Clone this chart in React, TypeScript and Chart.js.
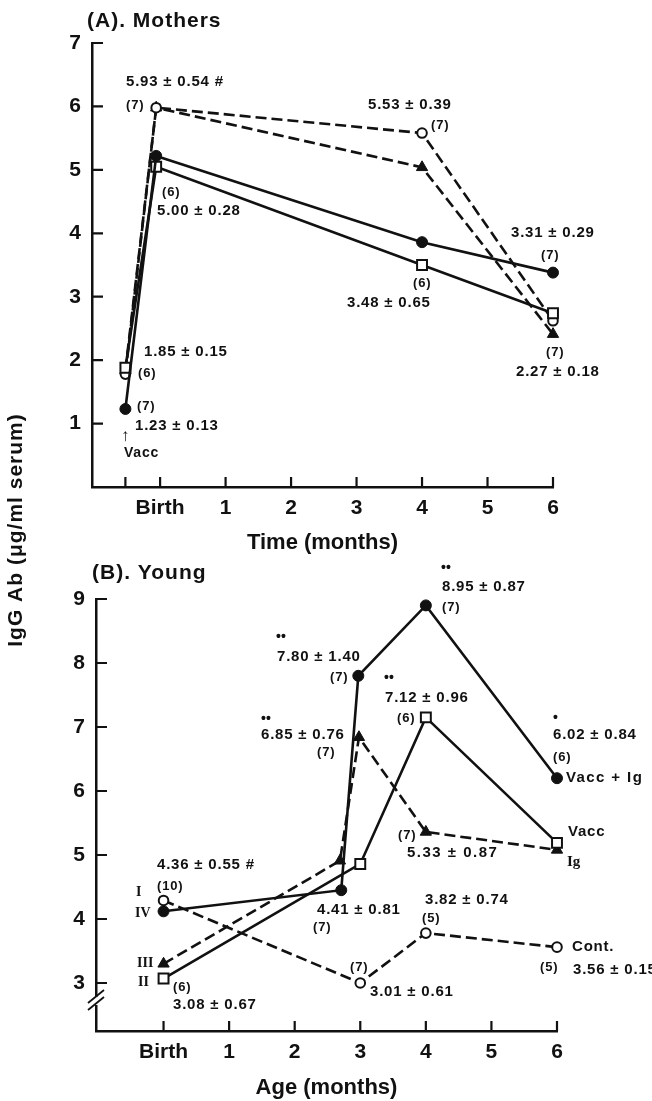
import React, { useEffect, useRef } from 'react';
import { Chart, registerables } from 'chart.js';

Chart.register(...registerables);

const W = 652;
const H = 1101;
const INK = '#111111';
const SANS = '"Liberation Sans", Arial, Helvetica, sans-serif';
const SERIF = '"Liberation Serif", "Times New Roman", serif';

// ---------- Panel A: Mothers ----------
const xTicksA = [-0.53, 0, 1, 2, 3, 4, 5, 6];
const xTickLabelsA = ['', 'Birth', '1', '2', '3', '4', '5', '6'];
const yTicksA = [1, 2, 3, 4, 5, 6, 7];
const monthsA = [-0.53, -0.06, 4, 6];
const mothersFilledCircle = [1.23, 5.22, 3.86, 3.38];
const mothersOpenSquare = [1.88, 5.05, 3.5, 2.74];
const mothersOpenCircle = [1.78, 5.98, 5.58, 2.62];
const mothersFilledTriangle = [1.84, 5.98, 5.04, 2.41];

// ---------- Panel B: Young ----------
const xTicksB = [0, 1, 2, 3, 4, 5, 6];
const xTickLabelsB = ['Birth', '1', '2', '3', '4', '5', '6'];
const yTicksB = [3, 4, 5, 6, 7, 8, 9];
const youngVaccIgMonths = [0, 2.71, 2.97, 4, 6];
const youngVaccIg = [4.12, 4.45, 7.8, 8.9, 6.2];
const youngVaccMonths = [0, 3, 4, 6];
const youngVacc = [3.07, 4.86, 7.15, 5.19];
const youngIgMonths = [0, 2.69, 2.98, 4, 6];
const youngIg = [3.3, 4.91, 6.84, 5.36, 5.08];
const youngContMonths = [0, 3, 4, 6];
const youngCont = [4.29, 3.0, 3.78, 3.56];

type Txt = { t: string; x: number; y: number; size?: number; serif?: boolean; sp?: number; weight?: string };

const textsA: Txt[] = [
  { t: '(A). Mothers', x: 87, y: 21, size: 21, sp: 1 },
  { t: 'IgG Ab (\u03bcg/ml serum)', x: 16, y: 530, size: 21, sp: 1 },
  { t: '5.93 \u00b1 0.54 #', x: 126, y: 82 },
  { t: '(7)', x: 126, y: 105, size: 13 },
  { t: '(6)', x: 162, y: 192, size: 13 },
  { t: '5.00 \u00b1 0.28', x: 157, y: 211 },
  { t: '5.53 \u00b1 0.39', x: 368, y: 105 },
  { t: '(7)', x: 431, y: 125, size: 13 },
  { t: '3.31 \u00b1 0.29', x: 511, y: 233 },
  { t: '(7)', x: 541, y: 255, size: 13 },
  { t: '(6)', x: 413, y: 283, size: 13 },
  { t: '3.48 \u00b1 0.65', x: 347, y: 303 },
  { t: '(7)', x: 546, y: 352, size: 13 },
  { t: '2.27 \u00b1 0.18', x: 516, y: 372 },
  { t: '1.85 \u00b1 0.15', x: 144, y: 352 },
  { t: '(6)', x: 138, y: 373, size: 13 },
  { t: '(7)', x: 137, y: 406, size: 13 },
  { t: '1.23 \u00b1 0.13', x: 135, y: 426 },
  { t: '\u2191', x: 121, y: 436, size: 17, sp: 0, weight: 'normal' },
  { t: 'Vacc', x: 124, y: 453, size: 14 },
];

const textsB: Txt[] = [
  { t: '(B). Young', x: 92, y: 573, size: 21, sp: 1 },
  { t: '\u2022\u2022', x: 276, y: 637, size: 14, sp: 0 },
  { t: '7.80 \u00b1 1.40', x: 277, y: 657 },
  { t: '(7)', x: 330, y: 677, size: 13 },
  { t: '\u2022\u2022', x: 261, y: 719, size: 14, sp: 0 },
  { t: '6.85 \u00b1 0.76', x: 261, y: 735 },
  { t: '(7)', x: 317, y: 752, size: 13 },
  { t: '\u2022\u2022', x: 441, y: 568, size: 14, sp: 0 },
  { t: '8.95 \u00b1 0.87', x: 442, y: 587 },
  { t: '(7)', x: 442, y: 607, size: 13 },
  { t: '\u2022\u2022', x: 384, y: 678, size: 14, sp: 0 },
  { t: '7.12 \u00b1 0.96', x: 385, y: 698 },
  { t: '(6)', x: 397, y: 718, size: 13 },
  { t: '\u2022', x: 553, y: 718, size: 14 },
  { t: '6.02 \u00b1 0.84', x: 553, y: 735 },
  { t: '(6)', x: 553, y: 757, size: 13 },
  { t: 'Vacc + Ig', x: 566, y: 778, size: 15, sp: 1.4 },
  { t: 'Vacc', x: 568, y: 832, size: 15 },
  { t: 'Ig', x: 567, y: 862, size: 15, serif: true, sp: 0 },
  { t: '(7)', x: 398, y: 835, size: 13 },
  { t: '5.33 \u00b1 0.87', x: 407, y: 853, sp: 1.5 },
  { t: '4.41 \u00b1 0.81', x: 317, y: 910 },
  { t: '(7)', x: 313, y: 927, size: 13 },
  { t: '3.82 \u00b1 0.74', x: 425, y: 900 },
  { t: '(5)', x: 422, y: 918, size: 13 },
  { t: 'Cont.', x: 572, y: 947, size: 15 },
  { t: '(5)', x: 540, y: 967, size: 13 },
  { t: '3.56 \u00b1 0.15', x: 573, y: 970 },
  { t: '(7)', x: 350, y: 967, size: 13 },
  { t: '3.01 \u00b1 0.61', x: 370, y: 992 },
  { t: '4.36 \u00b1 0.55 #', x: 157, y: 865 },
  { t: '(10)', x: 157, y: 886, size: 13 },
  { t: 'I', x: 136, y: 892, size: 14, serif: true, sp: 0 },
  { t: 'IV', x: 135, y: 913, size: 14, serif: true, sp: 0 },
  { t: 'III', x: 137, y: 963, size: 14, serif: true, sp: 0 },
  { t: 'II', x: 138, y: 982, size: 14, serif: true, sp: 0 },
  { t: '(6)', x: 173, y: 987, size: 13 },
  { t: '3.08 \u00b1 0.67', x: 173, y: 1005 },
];

const makeDecor = (texts: Txt[], withBreak: boolean) => ({
  id: 'decor',
  afterDraw(chart: any) {
    const ctx = chart.ctx as CanvasRenderingContext2D;
    const xs = chart.scales.x;
    const ys = chart.scales.y;
    ctx.save();
    ctx.strokeStyle = INK;
    ctx.lineWidth = 2.2;
    ctx.beginPath();
    xs.ticks.forEach((tk: any) => {
      const px = xs.getPixelForValue(tk.value);
      ctx.moveTo(px, xs.top);
      ctx.lineTo(px, xs.top - 10);
    });
    ys.ticks.forEach((tk: any) => {
      const py = ys.getPixelForValue(tk.value);
      ctx.moveTo(ys.right, py);
      ctx.lineTo(ys.right + 11, py);
    });
    ctx.stroke();

    if (withBreak) {
      const ax = ys.right;
      ctx.fillStyle = '#ffffff';
      ctx.fillRect(ax - 3, 997, 6, 8);
      ctx.beginPath();
      ctx.lineWidth = 1.8;
      ctx.moveTo(ax - 8, 1003);
      ctx.lineTo(ax + 8, 990);
      ctx.moveTo(ax - 8, 1010);
      ctx.lineTo(ax + 8, 997);
      ctx.stroke();
    }

    ctx.fillStyle = INK;
    ctx.textBaseline = 'middle';
    texts.forEach((tx) => {
      const size = tx.size ?? 15;
      const fam = tx.serif ? SERIF : SANS;
      ctx.font = `${tx.weight ?? 'bold'} ${size}px ${fam}`;
      (ctx as any).letterSpacing = `${tx.sp ?? 0.8}px`;
      if (tx.t.startsWith('IgG')) {
        ctx.save();
        ctx.translate(tx.x, tx.y);
        ctx.rotate(-Math.PI / 2);
        ctx.textAlign = 'center';
        ctx.fillText(tx.t, 0, 0);
        ctx.restore();
      } else {
        ctx.textAlign = 'left';
        ctx.fillText(tx.t, tx.x, tx.y);
      }
    });
    (ctx as any).letterSpacing = '0px';
    ctx.restore();
  },
});

const ds = (
  xs: number[],
  ys: number[],
  kind: 'fcircle' | 'osquare' | 'ocircle' | 'ftriangle',
  dashed: boolean,
) => {
  const base: any = {
    data: xs.map((x, i) => ({ x, y: ys[i] })),
    borderColor: INK,
    borderWidth: 2.6,
    borderDash: dashed ? [11, 5] : [],
    tension: 0,
    fill: false,
    clip: false,
    pointBorderColor: INK,
  };
  if (kind === 'fcircle') {
    Object.assign(base, { pointStyle: 'circle', pointRadius: 5.5, pointBackgroundColor: INK, pointBorderWidth: 1 });
  } else if (kind === 'osquare') {
    Object.assign(base, { pointStyle: 'rect', pointRadius: 7, pointBackgroundColor: '#ffffff', pointBorderWidth: 2 });
  } else if (kind === 'ocircle') {
    Object.assign(base, { pointStyle: 'circle', pointRadius: 4.8, pointBackgroundColor: '#ffffff', pointBorderWidth: 2 });
  } else {
    Object.assign(base, { pointStyle: 'triangle', pointRadius: 6.5, pointBackgroundColor: INK, pointBorderWidth: 1 });
  }
  return base;
};

const tickFont = { family: SANS, size: 21, weight: 'bold' as const };
const titleFont = { family: SANS, size: 22, weight: 'bold' as const };

const buildConfig = (
  datasets: any[],
  xMin: number,
  xMax: number,
  xTicks: number[],
  xLabels: string[],
  yMin: number,
  yMax: number,
  yTicks: number[],
  yWidth: number,
  xHeight: number,
  padding: { top: number; right: number; bottom: number; left: number },
  xTitle: string,
  texts: Txt[],
  withBreak: boolean,
): any => ({
  type: 'line',
  data: { datasets },
  options: {
    responsive: false,
    maintainAspectRatio: false,
    animation: false,
    events: [],
    layout: { padding },
    plugins: { legend: { display: false }, tooltip: { enabled: false }, title: { display: false } },
    scales: {
      x: {
        type: 'linear',
        min: xMin,
        max: xMax,
        afterBuildTicks: (s: any) => {
          s.ticks = xTicks.map((v) => ({ value: v }));
        },
        afterFit: (s: any) => {
          s.height = xHeight;
        },
        ticks: {
          autoSkip: false,
          maxRotation: 0,
          padding: 9,
          color: INK,
          font: tickFont,
          callback: (_v: any, i: number) => xLabels[i],
        },
        grid: { display: false, drawTicks: false, drawOnChartArea: false },
        border: { display: true, color: INK, width: 2.5 },
        title: { display: true, text: xTitle, color: INK, font: titleFont, padding: 0 },
      },
      y: {
        type: 'linear',
        min: yMin,
        max: yMax,
        afterBuildTicks: (s: any) => {
          s.ticks = yTicks.map((v) => ({ value: v }));
        },
        afterFit: (s: any) => {
          s.width = yWidth;
        },
        ticks: { padding: 11, color: INK, font: tickFont },
        grid: { display: false, drawTicks: false, drawOnChartArea: false },
        border: { display: true, color: INK, width: 2.5 },
      },
    },
  },
  plugins: [makeDecor(texts, withBreak)],
});

export default function App() {
  const refA = useRef<HTMLCanvasElement | null>(null);
  const refB = useRef<HTMLCanvasElement | null>(null);

  useEffect(() => {
    if (!refA.current || !refB.current) return;
    const chartA = new Chart(
      refA.current,
      buildConfig(
        [
          ds(monthsA, mothersFilledCircle, 'fcircle', false),
          ds(monthsA, mothersOpenSquare, 'osquare', false),
          ds(monthsA, mothersOpenCircle, 'ocircle', true),
          ds(monthsA, mothersFilledTriangle, 'ftriangle', true),
        ],
        -1.04,
        6,
        xTicksA,
        xTickLabelsA,
        0,
        7,
        yTicksA,
        92,
        69,
        { top: 43, right: 99, bottom: 545, left: 0 },
        'Time (months)',
        textsA,
        false,
      ),
    );
    const chartB = new Chart(
      refB.current,
      buildConfig(
        [
          ds(youngVaccIgMonths, youngVaccIg, 'fcircle', false),
          ds(youngVaccMonths, youngVacc, 'osquare', false),
          ds(youngIgMonths, youngIg, 'ftriangle', true),
          ds(youngContMonths, youngCont, 'ocircle', true),
        ],
        -1.03,
        6,
        xTicksB,
        xTickLabelsB,
        2.25,
        9,
        yTicksB,
        96,
        70,
        { top: 599, right: 95, bottom: 0, left: 0 },
        'Age (months)',
        textsB,
        true,
      ),
    );
    return () => {
      chartA.destroy();
      chartB.destroy();
    };
  }, []);

  const cs: React.CSSProperties = { position: 'absolute', left: 0, top: 0, width: W, height: H };
  return (
    <div style={{ position: 'absolute', left: 0, top: 0, width: W, height: H, background: '#ffffff' }}>
      <canvas ref={refA} width={W} height={H} style={cs} />
      <canvas ref={refB} width={W} height={H} style={cs} />
    </div>
  );
}
